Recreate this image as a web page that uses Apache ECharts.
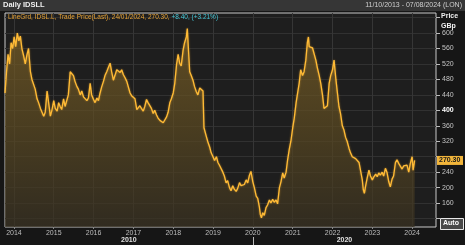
<!DOCTYPE html>
<html>
<head>
<meta charset="utf-8">
<script src="https://cdn.jsdelivr.net/npm/echarts@6/dist/echarts.min.js"></script>
<style>
html,body{margin:0;padding:0;background:#161616;}
#c{width:465px;height:245px;}
</style>
</head>
<body>
<div id="c"></div>
<script>
const dates = [
'2013-10-11','2013-10-25','2013-11-08','2013-11-22','2013-12-06','2013-12-20',
'2014-01-03','2014-01-17','2014-02-01','2014-02-15','2014-03-01','2014-03-15','2014-04-01','2014-04-15','2014-05-01','2014-05-15','2014-06-01','2014-06-15',
'2014-07-01','2014-07-15','2014-08-01','2014-08-15','2014-09-01','2014-09-15','2014-10-01','2014-10-15','2014-11-01','2014-11-15','2014-12-01','2014-12-15',
'2015-01-01','2015-01-15','2015-02-01','2015-02-15','2015-03-01','2015-03-15','2015-04-01','2015-04-15','2015-05-01','2015-05-15','2015-06-01','2015-06-15',
'2015-07-01','2015-07-15','2015-08-01','2015-08-15','2015-09-01','2015-09-15','2015-10-01','2015-10-15','2015-11-01','2015-11-15','2015-12-01','2015-12-15',
'2016-01-01','2016-01-15','2016-02-01','2016-02-15','2016-03-01','2016-03-15','2016-04-01','2016-04-15','2016-05-01','2016-05-15','2016-06-01','2016-06-15',
'2016-07-01','2016-07-15','2016-08-01','2016-08-15','2016-09-01','2016-09-15','2016-10-01','2016-10-15','2016-11-01','2016-11-15','2016-12-01','2016-12-15',
'2017-01-01','2017-01-15','2017-02-01','2017-02-15','2017-03-01','2017-03-15','2017-04-01','2017-04-15','2017-05-01','2017-05-15','2017-06-01','2017-06-15',
'2017-07-01','2017-07-15','2017-08-01','2017-08-15','2017-09-01','2017-09-15','2017-10-01','2017-10-15','2017-11-01','2017-11-15','2017-12-01','2017-12-15',
'2018-01-01','2018-01-15','2018-02-01','2018-02-15','2018-03-01','2018-03-15','2018-04-01','2018-04-15','2018-05-01','2018-05-10','2018-05-20','2018-06-01','2018-06-15',
'2018-07-01','2018-07-15','2018-08-01','2018-08-15','2018-09-01','2018-09-15','2018-10-01','2018-10-10','2018-10-20','2018-11-01','2018-11-15','2018-12-01','2018-12-15',
'2019-01-01','2019-01-15','2019-02-01','2019-02-15','2019-03-01','2019-03-15','2019-04-01','2019-04-15','2019-05-01','2019-05-15','2019-06-01','2019-06-15',
'2019-07-01','2019-07-15','2019-08-01','2019-08-15','2019-09-01','2019-09-15','2019-10-01','2019-10-15','2019-11-01','2019-11-15','2019-12-01','2019-12-15',
'2020-01-01','2020-01-15','2020-02-01','2020-02-15','2020-03-01','2020-03-10','2020-03-20','2020-04-01','2020-04-15','2020-05-01','2020-05-15','2020-06-01','2020-06-15',
'2020-07-01','2020-07-15','2020-08-01','2020-08-15','2020-09-01','2020-09-15','2020-10-01','2020-10-15','2020-11-01','2020-11-15','2020-12-01','2020-12-15',
'2021-01-01','2021-01-15','2021-02-01','2021-02-15','2021-03-01','2021-03-15','2021-04-01','2021-04-15','2021-05-01','2021-05-15','2021-05-25','2021-06-01','2021-06-15',
'2021-07-01','2021-07-15','2021-08-01','2021-08-15','2021-09-01','2021-09-15','2021-10-01','2021-10-15','2021-11-01','2021-11-15','2021-12-01','2021-12-15',
'2022-01-01','2022-01-15','2022-02-01','2022-02-15','2022-03-01','2022-03-15','2022-04-01','2022-04-15','2022-05-01','2022-05-15','2022-06-01','2022-06-15',
'2022-07-01','2022-07-15','2022-08-01','2022-08-15','2022-09-01','2022-09-15','2022-10-01','2022-10-10','2022-10-20','2022-11-01','2022-11-15','2022-12-01','2022-12-15',
'2023-01-01','2023-01-15','2023-02-01','2023-02-15','2023-03-01','2023-03-15','2023-04-01','2023-04-15','2023-05-01','2023-05-15','2023-06-01','2023-06-15',
'2023-07-01','2023-07-15','2023-08-01','2023-08-15','2023-09-01','2023-09-15','2023-10-01','2023-10-15','2023-11-01','2023-11-15','2023-12-01','2023-12-15',
'2024-01-01','2024-01-10','2024-01-24'
];
const prices = [
445,500,545,520,575,560,
590,565,600,580,592,560,540,520,545,560,500,480,
475,455,430,420,405,410,385,395,450,420,385,400,
425,405,398,420,410,402,430,410,405,440,500,505,
490,475,462,455,440,450,435,440,425,432,470,440,
428,420,432,425,445,460,475,490,500,510,522,500,
478,490,505,500,498,505,492,485,475,478,445,438,
440,430,402,405,412,405,398,410,428,420,418,405,
392,400,388,380,374,378,368,372,383,395,420,430,
445,470,520,545,522,515,555,575,590,612,560,500,490,
478,462,448,440,458,462,450,355,350,332,318,305,290,
280,270,280,265,258,255,240,230,212,218,200,192,
205,196,190,198,213,205,200,208,220,212,232,242,
215,200,178,172,150,130,122,135,128,148,155,168,160,
170,162,168,158,200,215,238,225,240,272,300,320,
355,380,420,445,470,505,490,500,530,575,590,565,562,
562,565,530,510,490,470,440,405,400,412,470,490,
505,530,480,445,410,392,360,350,330,320,302,290,
280,285,275,272,265,262,220,195,185,205,225,245,230,
220,228,235,228,238,232,240,230,250,240,215,202,
222,230,265,272,262,258,248,256,252,258,240,262,
280,245,270.30
];
const yearTicks = ['2014-01-01','2015-01-01','2016-01-01','2017-01-01','2018-01-01','2019-01-01','2020-01-01','2021-01-01','2022-01-01','2023-01-01','2024-01-01'];
const decadeLabels = ['2010','2020'];
const decadeCenters = ['2016-11-20','2022-04-20'];
const decadeBreaks = ['2020-01-01'];
const priceGrid = [120,160,200,240,280,320,360,400,440,480,520,560,600,640];
const priceLabels = [160,200,240,320,360,400,440,480,520,560,600];
const viewStart = '2013-10-11', viewEnd = '2024-08-07';
const lastLabel = '24/01/2024';
const change = '+8.40', changePct = '(+3.21%)';

const ts = s => new Date(s + 'T00:00:00Z').getTime();
const seriesData = dates.map((d,i)=>[ts(d), prices[i]]);
const lastVal = prices[prices.length-1];
const FONT = 'Liberation Sans';
const yearTs = yearTicks.map(ts);
const decTs = decadeCenters.map(ts);

const chart = echarts.init(document.getElementById('c'));
const option = {
  backgroundColor: '#161616',
  animation: false,
  textStyle: {fontFamily: FONT},
  grid: {left: 5, right: 29, top: 13, bottom: 18, show: true, backgroundColor: '#1e1e1e', borderColor: '#c8c8c8', borderWidth: 1},
  xAxis: [{
    type: 'value', min: ts(viewStart), max: ts(viewEnd), scale: true,
    axisLine: {show: false},
    axisTick: {show: true, length: 2, lineStyle: {color: '#888'}, customValues: yearTs},
    splitLine: {show: true, lineStyle: {color: '#363636', width: 1}},
    axisLabel: {customValues: yearTs, formatter: v => String(new Date(v).getUTCFullYear()), color: '#bdbdbd', fontSize: 7, margin: 3, fontFamily: FONT}
  },{
    type: 'value', min: ts(viewStart), max: ts(viewEnd), scale: true, position: 'bottom', offset: 10,
    axisLine: {show: false},
    axisTick: {show: true, length: 8, lineStyle: {color: '#bbb'}, customValues: decadeBreaks.map(ts)},
    splitLine: {show: false},
    axisLabel: {customValues: decTs, formatter: v => decadeLabels[decTs.indexOf(v)] || '', color: '#e0e0e0', fontSize: 7, fontWeight: 'bold', margin: 0, fontFamily: FONT}
  }],
  yAxis: {
    type: 'value', position: 'right', min: 98, max: 652,
    axisLine: {show: false},
    axisTick: {show: true, length: 4, lineStyle: {color: '#bbb'}, customValues: priceGrid},
    splitLine: {show: true, lineStyle: {color: '#313131', width: 1}},
    axisLabel: {customValues: priceLabels, color: '#c4c4c4', fontSize: 7, margin: 6, fontFamily: FONT,
      formatter: v => v === 400 ? '{b|400}' : String(v),
      rich: {b: {color: '#ffffff', fontWeight: 'bold', fontSize: 7, fontFamily: FONT}}}
  },
  series: [{
    type: 'line', data: seriesData, showSymbol: false, symbol: 'none',
    lineStyle: {color: '#ffbb36', width: 1.3, shadowColor: 'rgba(255,180,50,0.6)', shadowBlur: 2},
    areaStyle: {color: new echarts.graphic.LinearGradient(0,0,0,1,[
      {offset: 0, color: '#7d6126'}, {offset: 0.5, color: '#5c4a21'}, {offset: 1, color: '#393121'}])},
    xAxisIndex: 0
  }],
  graphic: [
    {type: 'rect', left: 0, top: 0, shape: {width: 465, height: 11}, style: {fill: '#363636'}, z: 100},
    {type: 'text', left: 3, top: 1, style: {text: 'Daily IDSLL', fill: '#f0f0f0', font: 'bold 7.5px "Liberation Sans"'}, z: 101},
    {type: 'text', right: 3, top: 1.5, style: {text: '11/10/2013 - 07/08/2024 (LON)', fill: '#cfcfcf', font: '7px "Liberation Sans"'}, z: 101},
    {type: 'text', left: 8, top: 14, z: 101, style: {
      text: '{o|LineGrd, IDSL.L, Trade Price(Last), ' + lastLabel + ', ' + lastVal.toFixed(2) + ', }{c|' + change + ', ' + changePct + '}',
      rich: {o: {fill: '#e8a437', font: '6.5px "Liberation Sans"'}, c: {fill: '#44c6d6', font: '6.5px "Liberation Sans"'}}}},
    {type: 'text', left: 441, top: 13, style: {text: 'Price', fill: '#f0f0f0', font: 'bold 7px "Liberation Sans"'}, z: 101},
    {type: 'text', left: 441, top: 23, style: {text: 'GBp', fill: '#f0f0f0', font: 'bold 7px "Liberation Sans"'}, z: 101},
    {type: 'rect', left: 440, top: 218, shape: {width: 23, height: 11}, style: {fill: '#4a4a4a', stroke: '#e8e8e8', lineWidth: 1}, z: 101},
    {type: 'text', left: 443, top: 220, style: {text: 'Auto', fill: '#ffffff', font: 'bold 7px "Liberation Sans"'}, z: 102}
  ]
};
chart.setOption(option);
const py = chart.convertToPixel({yAxisIndex: 0}, lastVal);
chart.setOption({graphic: option.graphic.concat([
  {type: 'rect', left: 437, top: py - 4.5, shape: {width: 26, height: 9}, style: {fill: '#f2b53a'}, z: 103},
  {type: 'text', left: 439, top: py - 3.5, style: {text: lastVal.toFixed(2), fill: '#1a1a1a', font: 'bold 7px "Liberation Sans"'}, z: 104}
])});
</script>
</body>
</html>
